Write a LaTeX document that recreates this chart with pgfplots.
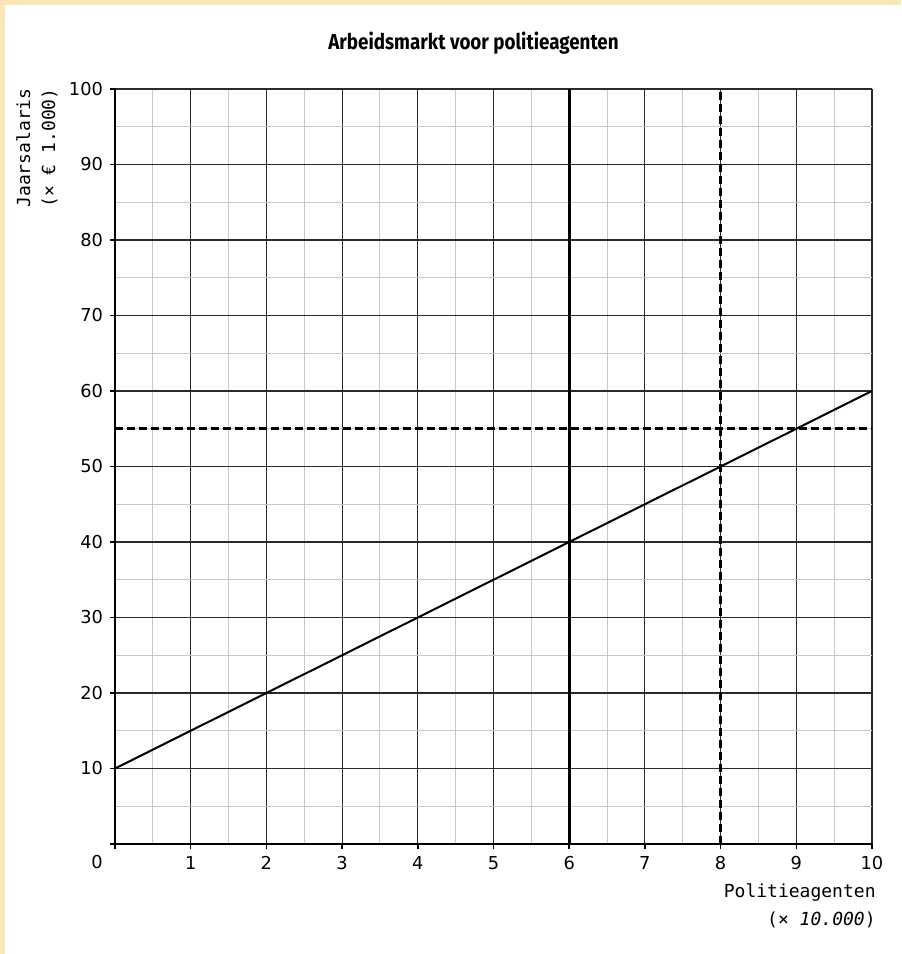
\documentclass[border=0pt]{standalone}
\usepackage{pgfplots}
\pgfplotsset{compat=1.18}
\usepackage{fontspec}
\setmainfont{DejaVu Sans}
\newfontfamily\monofont{DejaVu Sans Mono}
\newfontfamily\titlefont[FakeStretch=0.87]{Fira Sans}
\definecolor{band}{HTML}{FCE7B2}
\definecolor{minorgrid}{HTML}{C8C8C8}
\definecolor{majorgrid}{HTML}{2A2A2A}
\begin{document}
\begin{tikzpicture}
% page background: yellow strip on top and left, white elsewhere
\fill[band] (-57.5pt,-55pt) rectangle (393pt,422pt);
\fill[white] (-55pt,-55pt) rectangle (393pt,419.5pt);
\begin{axis}[
    scale only axis,
    width=378.5pt, height=377.5pt,
    xmin=0, xmax=10, ymin=0, ymax=100,
    axis lines*=left,
    axis line style={-, line width=1pt, black},
    xtick={0,1,...,10},
    xticklabels={,1,2,3,4,5,6,7,8,9,10},
    ytick={0,10,...,100},
    yticklabels={,10,20,30,40,50,60,70,80,90,100},
    minor x tick num=1,
    minor y tick num=1,
    tick align=outside,
    major tick length=2.5pt,
    minor tick length=0pt,
    major tick style={black, line width=0.8pt},
    grid=both,
    major grid style={majorgrid, line width=0.55pt},
    minor grid style={minorgrid, line width=0.5pt},
    tick label style={font=\fontsize{8.9}{10}\selectfont},
    /pgf/number format/assume math mode=true,
]
\addplot[black, line width=1pt] coordinates {(0,10) (10,60)};
\addplot[black, line width=1.6pt] coordinates {(6,0) (6,100)};
\addplot[black, line width=1.6pt, dash pattern=on 4pt off 2pt] coordinates {(8,0) (8,100)};
\addplot[black, line width=1.6pt, dash pattern=on 4pt off 2pt] coordinates {(0,55) (10,55)};
\end{axis}
% origin label
\node[font=\fontsize{8.9}{10}\selectfont] at (-9pt,-9pt) {0};
% title
\node[font=\titlefont\bfseries\fontsize{10.8}{12}\selectfont] at (179.25pt,400.5pt) {Arbeidsmarkt voor politieagenten};
% axis labels
\node[font=\monofont\fontsize{9}{12.5}\selectfont, align=right, rotate=90, anchor=east, inner sep=0pt]
  at (-39pt,378pt) {Jaarsalaris\\(× € 1.000)};
\node[font=\monofont\fontsize{9}{14}\selectfont, align=right, anchor=east, inner sep=0pt]
  at (380.5pt,-31pt) {Politieagenten\\(× \textit{10.000})};
\pgfresetboundingbox
\path[use as bounding box] (-57.5pt,-55pt) rectangle (393pt,422pt);
\end{tikzpicture}
\end{document}
